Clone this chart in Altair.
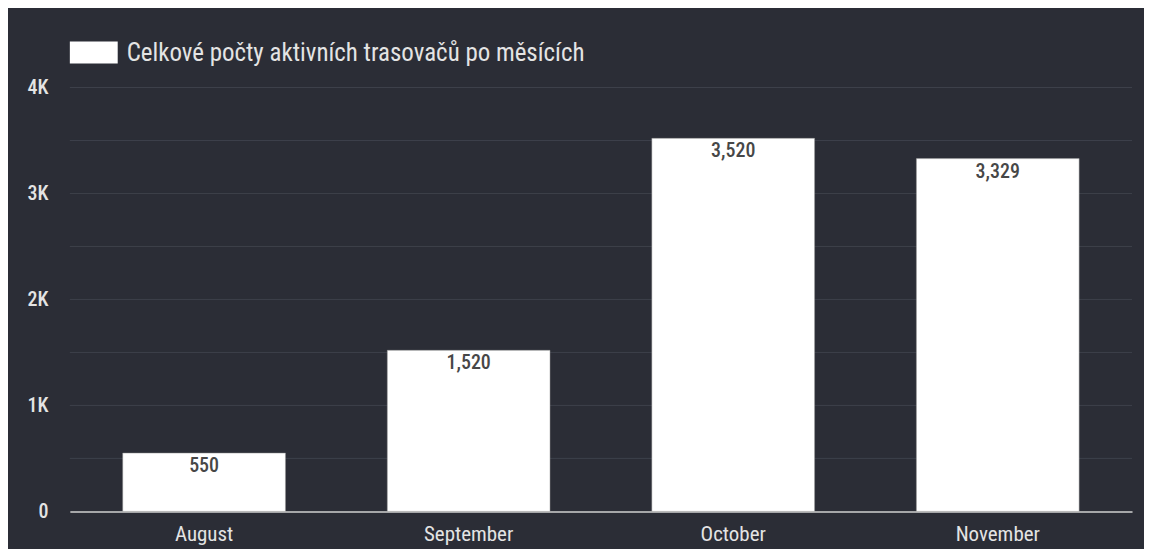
import altair as alt
import pandas as pd

months = ["August", "September", "October", "November"]
values = [550, 1520, 3520, 3329]
labels = ["550", "1,520", "3,520", "3,329"]
series_name = "Celkové počty aktivních trasovačů po měsících"

df = pd.DataFrame({"month": months, "value": values, "label": labels, "series": [series_name] * 4})

FONT = "Roboto Condensed, Liberation Sans Narrow, DejaVu Sans Condensed, Roboto, sans-serif"
BG = "#2b2d36"
TXT = "#e4e4e4"

x = alt.X("month:N", sort=months, title=None,
          scale=alt.Scale(paddingInner=0.385, paddingOuter=0.2),
          axis=alt.Axis(labelAngle=0, labelColor=TXT, labelFont=FONT, labelFontSize=21,
                        labelPadding=12, domainColor="#d0d0d0", domainWidth=1.5, ticks=False,
                        grid=False))
y = alt.Y("value:Q", title=None,
          scale=alt.Scale(domain=[0, 4000], nice=False),
          axis=alt.Axis(values=[0, 1000, 2000, 3000, 4000],
                        labelExpr="datum.value == 0 ? '0' : (datum.value / 1000) + 'K'",
                        labelColor=TXT, labelFont=FONT, labelFontSize=20, labelFontWeight=500,
                        labelPadding=22, domain=False, ticks=False, grid=False))

grid_df = pd.DataFrame({"g": [500, 1000, 1500, 2000, 2500, 3000, 3500, 4000]})
grid = alt.Chart(grid_df).mark_rule(color="#3d404a", strokeWidth=1).encode(y=alt.Y("g:Q"))

bars = alt.Chart(df).mark_bar(color="white", stroke="#9a9a9a", strokeWidth=0.5).encode(
    x=x, y=y,
    color=alt.Color("series:N", scale=alt.Scale(range=["white"]),
                    legend=alt.Legend(title=None, orient="none", legendX=0, legendY=-59,
                                      symbolType="M-1,-0.46L1,-0.46L1,0.46L-1,0.46Z",
                                      symbolSize=2304, symbolFillColor="white",
                                      symbolStrokeWidth=0, labelColor=TXT, labelFont=FONT,
                                      labelFontSize=25, labelOffset=9, labelLimit=900)))

text = alt.Chart(df).mark_text(baseline="top", dy=3, color="#474747", font=FONT,
                               fontSize=20, fontWeight=500).encode(
    x=alt.X("month:N", sort=months), y=alt.Y("value:Q"), text="label:N")

chart = alt.layer(grid, bars, text).properties(
    width=1065, height=425,
    autosize=alt.AutoSizeParams(type="none"),
    padding={"left": 62, "top": 79, "right": 12, "bottom": 37},
    background=BG,
).configure_view(stroke=None)

chart.save("out.html", embed_options={"renderer": "svg", "actions": False})
